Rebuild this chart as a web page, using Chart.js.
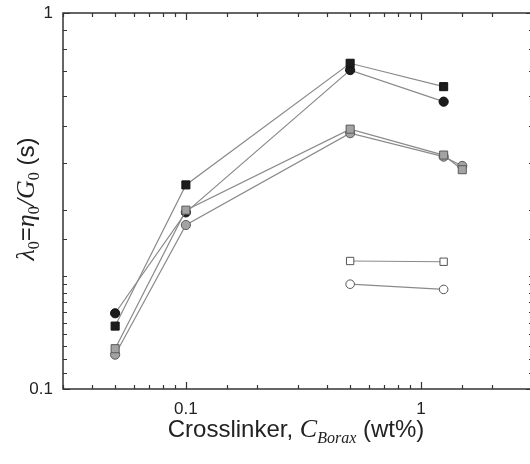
<!DOCTYPE html>
<html>
<head>
<meta charset="utf-8">
<script src="https://cdn.jsdelivr.net/npm/chart.js@4"></script>
<style>
  html, body { margin: 0; padding: 0; background: #fff; overflow: hidden; }
  #wrap { width: 530px; height: 464px; overflow: hidden; position: relative; }
  canvas { display: block; }
</style>
</head>
<body>
<div id="wrap"><canvas id="c" width="540" height="464"></canvas></div>
<script>
// ---- data ----
const xFull = [0.05, 0.1, 0.5, 1.25];
const xExt = [0.05, 0.1, 0.5, 1.25, 1.5];
const xOpen = [0.5, 1.25];
const blackSquares = [0.147, 0.349, 0.735, 0.637];
const blackCircles = [0.159, 0.295, 0.705, 0.581];
const graySquares = [0.128, 0.299, 0.491, 0.419, 0.383];
const grayCircles = [0.1234, 0.273, 0.479, 0.415, 0.392];
const openSquares = [0.219, 0.218];
const openCircles = [0.190, 0.184];
const xTickLabels = [0.1, 1];
const yTickLabels = [0.1, 1];
const xRange = [0.03, 3];
const yRange = [0.1, 1];

function pts(xs, ys) { return xs.map((x, i) => ({ x: x, y: ys[i] })); }

const lineColor = '#8a8a8a';
function ds(label, xs, ys, style, bg, border, r) {
  return {
    label: label, data: pts(xs, ys), showLine: true,
    borderColor: lineColor, borderWidth: 1.2,
    pointStyle: style, pointRadius: r, pointHoverRadius: r,
    pointBackgroundColor: bg, pointBorderColor: border, pointBorderWidth: 1
  };
}

const datasets = [
  ds('black squares', xFull, blackSquares, 'rect', '#1c1c1c', '#111', 5.7),
  ds('gray squares', xExt, graySquares, 'rect', '#a3a3a3', '#5a5a5a', 5.7),
  ds('black circles', xFull, blackCircles, 'circle', '#1c1c1c', '#111', 4.6),
  ds('gray circles', xExt, grayCircles, 'circle', '#a3a3a3', '#5a5a5a', 4.6),
  ds('open squares', xOpen, openSquares, 'rect', '#ffffff', '#555', 5.2),
  ds('open circles', xOpen, openCircles, 'circle', '#ffffff', '#555', 4.3)
];

function isLabelled(v, list) {
  return list.some(t => Math.abs(Math.log10(v) - Math.log10(t)) < 1e-6);
}
function isMajor(v) {
  const l = Math.log10(v);
  return Math.abs(l - Math.round(l)) < 1e-6;
}

const frameTicks = {
  id: 'frameTicks',
  afterDatasetsDraw(chart) {
    const ctx = chart.ctx, a = chart.chartArea;
    ctx.save();
    ctx.strokeStyle = '#333';
    ctx.lineWidth = 1.2;
    const xs = chart.scales.x, ys = chart.scales.y;
    ctx.beginPath();
    xs.ticks.forEach(t => {
      const px = Math.round(xs.getPixelForValue(t.value)) + 0.5;
      const len = isMajor(t.value) ? 7 : 4;
      ctx.moveTo(px, a.bottom); ctx.lineTo(px, a.bottom - len);
      ctx.moveTo(px, a.top); ctx.lineTo(px, a.top + len);
    });
    ys.ticks.forEach(t => {
      const py = Math.round(ys.getPixelForValue(t.value)) + 0.5;
      const len = isMajor(t.value) ? 7 : 4;
      ctx.moveTo(a.left, py); ctx.lineTo(a.left + len, py);
      ctx.moveTo(a.right, py); ctx.lineTo(a.right - len, py);
    });
    ctx.stroke();
    ctx.lineWidth = 1.5;
    ctx.strokeRect(a.left, a.top, a.right - a.left, a.bottom - a.top);
    ctx.restore();
  }
};

function drawRich(ctx, parts, x, y) {
  let total = 0;
  parts.forEach(p => { ctx.font = p[1]; p.w = ctx.measureText(p[0]).width; total += p.w; });
  let cx = x - total / 2;
  parts.forEach(p => {
    ctx.font = p[1];
    ctx.fillText(p[0], cx, y + (p[2] || 0));
    cx += p.w;
  });
}

const titles = {
  id: 'titles',
  afterDraw(chart) {
    const ctx = chart.ctx, a = chart.chartArea;
    ctx.save();
    ctx.fillStyle = '#222';
    ctx.textBaseline = 'alphabetic';
    ctx.textAlign = 'left';
    const sans = '24px "Liberation Sans", Arial, sans-serif';
    const serifI = 'italic 26px "Liberation Serif", "Times New Roman", serif';
    const subI = 'italic 16px "Liberation Serif", "Times New Roman", serif';
    const sub = '16px "Liberation Serif", "Times New Roman", serif';
    drawRich(ctx, [
      ['Crosslinker, ', sans, 0],
      ['C', serifI, 0],
      ['Borax', subI, 6],
      [' (wt%)', sans, 0]
    ], 296, 437);

    ctx.translate(34, 199);
    ctx.rotate(-Math.PI / 2);
    drawRich(ctx, [
      ['λ', serifI, 0],
      ['0', sub, 5],
      ['=', sans, 0],
      ['η', serifI, 0],
      ['0', sub, 5],
      ['/', serifI, 0],
      ['G', serifI, 0],
      ['0', sub, 5],
      [' (s)', sans, 0]
    ], 0, 0);
    ctx.restore();
  }
};

new Chart(document.getElementById('c'), {
  type: 'scatter',
  data: { datasets: datasets },
  options: {
    responsive: false,
    animation: false,
    devicePixelRatio: 1,
    layout: { padding: { top: 13, right: 7, left: 0, bottom: 0 } },
    plugins: { legend: { display: false }, tooltip: { enabled: false } },
    elements: { line: { tension: 0 } },
    scales: {
      x: {
        type: 'logarithmic', min: xRange[0], max: xRange[1],
        grid: { display: false, drawTicks: false },
        border: { display: false },
        afterFit(s) { s.height = 75; s.paddingLeft = 0; s.paddingRight = 0; },
        ticks: {
          autoSkip: false, maxRotation: 0, padding: 10, color: '#222',
          font: { family: '"Liberation Sans", Arial, sans-serif', size: 17 },
          callback(v) { return isLabelled(v, xTickLabels) ? String(Number(v.toPrecision(3))) : ''; }
        }
      },
      y: {
        type: 'logarithmic', min: yRange[0], max: yRange[1],
        grid: { display: false, drawTicks: false },
        border: { display: false },
        afterFit(s) { s.width = 63; s.paddingTop = 0; s.paddingBottom = 0; },
        ticks: {
          autoSkip: false, padding: 10, color: '#222',
          font: { family: '"Liberation Sans", Arial, sans-serif', size: 17 },
          callback(v) { return isLabelled(v, yTickLabels) ? String(Number(v.toPrecision(3))) : ''; }
        }
      }
    }
  },
  plugins: [frameTicks, titles]
});
</script>
</body>
</html>
